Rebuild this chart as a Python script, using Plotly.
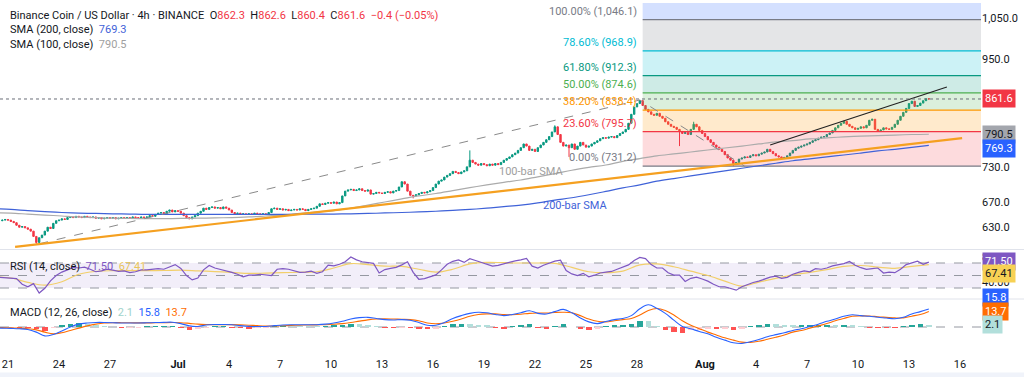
import numpy as np
import pandas as pd
import plotly.graph_objects as go

# ---------------- DATA ----------------
candle_start = "2025-06-20 16:00"   # 4h candles, BNB/USD (Binance)
close_4h = [
    641, 642,                               # Jun 20
    641, 639, 637, 633, 630, 631,           # Jun 21
    629, 627, 624, 616, 607, 614,           # Jun 22
    618, 624, 630, 628, 636, 640,           # Jun 23
    641, 643, 642, 645, 646, 645,           # Jun 24
    647, 646, 645, 647, 646, 645,           # Jun 25
    646, 644, 645, 643, 644, 645,           # Jun 26
    644, 645, 643, 644, 645, 644,           # Jun 27
    645, 644, 646, 645, 644, 646,           # Jun 28
    645, 646, 648, 647, 650, 652,           # Jun 29
    653, 651, 655, 657, 654, 656,           # Jun 30
    655, 652, 648, 645, 643, 646,           # Jul 1
    648, 652, 655, 660, 658, 661,           # Jul 2
    662, 660, 661, 659, 662, 660,           # Jul 3
    657, 653, 651, 652, 650, 651,           # Jul 4
    650, 651, 650, 652, 651, 650,           # Jul 5
    651, 650, 653, 659, 660, 658,           # Jul 6
    659, 657, 658, 656, 657, 658,           # Jul 7
    657, 659, 658, 656, 658, 659,           # Jul 8
    660, 663, 667, 666, 668, 669,           # Jul 9
    668, 670, 667, 669, 680, 688,           # Jul 10
    690, 691, 689, 690, 692, 689,           # Jul 11
    688, 690, 683, 684, 686, 685,           # Jul 12
    684, 686, 687, 685, 688, 689,           # Jul 13
    695, 704, 700, 688, 681, 680,           # Jul 14
    682, 684, 686, 685, 687, 689,           # Jul 15
    694, 700, 705, 707, 712, 715,           # Jul 16
    718, 722, 720, 718, 721, 723,           # Jul 17
    730, 742, 738, 735, 733, 736,           # Jul 18
    734, 732, 735, 733, 736, 734,           # Jul 19
    738, 742, 745, 748, 752, 755,           # Jul 20
    760, 765, 772, 768, 760, 762,           # Jul 21
    758, 765, 770, 775, 780, 786,           # Jul 22
    795, 805, 790, 775, 768, 770,           # Jul 23
    765, 772, 762, 768, 775, 770,           # Jul 24
    766, 768, 772, 775, 778, 782,           # Jul 25
    784, 783, 785, 786, 784, 788,           # Jul 26
    792, 795, 800, 812, 830, 845,           # Jul 27
    852, 858, 848, 840, 835, 830,           # Jul 28
    828, 832, 826, 822, 815, 810,           # Jul 29
    806, 804, 800, 796, 792, 794,           # Jul 30
    790, 800, 810, 805, 798, 792,           # Jul 31
    786, 780, 775, 770, 766, 762,           # Aug 1
    758, 752, 746, 742, 736, 738,           # Aug 2
    744, 746, 748, 747, 750, 752,           # Aug 3
    750, 753, 755, 757, 762, 758,           # Aug 4
    754, 750, 748, 746, 747, 750,           # Aug 5
    755, 760, 764, 766, 768, 770,           # Aug 6
    772, 775, 778, 780, 783, 785,           # Aug 7
    786, 790, 793, 798, 803, 808,           # Aug 8
    812, 816, 810, 806, 803, 800,           # Aug 9
    802, 805, 803, 808, 818, 820,           # Aug 10
    800, 796, 799, 803, 801, 800,           # Aug 11
    804, 810, 818, 826, 834, 842,           # Aug 12
    852, 857, 846, 848, 853, 858,           # Aug 13
    862.0, 861.6,                           # Aug 14
]
first_open = 640.0
last_open = 862.3
wick_high = {"2025-07-18 04:00": 760, "2025-07-23 04:00": 808, "2025-07-28 04:00": 859.5,
             "2025-07-31 08:00": 815, "2025-08-14 04:00": 862.6}
wick_low = {"2025-06-22 16:00": 605, "2025-07-14 20:00": 676, "2025-07-24 00:00": 748,
            "2025-07-30 12:00": 768, "2025-08-02 16:00": 731.2, "2025-08-14 04:00": 860.4}

daily_end = "2025-08-14 04:00"
sma200 = [659, 658, 656, 654.5, 653, 652, 651.5, 651, 650.5, 650,
          650, 650, 650, 650, 650, 650, 650, 650, 650.3, 650.5,
          650.5, 651, 651.5, 652.3, 653, 654, 655, 656.5, 658, 660,
          662.5, 665, 668.5, 673, 677, 682, 687.5, 693.5, 698.5, 705,
          709.5, 714, 718.5, 723, 727.5, 732, 736.5, 741, 744.5, 748,
          751.5, 755, 759, 762, 765.5, 769.3]
sma100 = [652.5, 652, 650.5, 649, 647.5, 646, 645, 644, 643.6, 643.3,
          643.3, 643.6, 644, 644.5, 645, 646, 647.5, 649, 651.5, 654,
          656, 660, 665, 670, 675, 680, 684, 689, 694, 698.5,
          703, 707, 712.5, 718, 724, 729, 733.4, 740, 745, 750,
          753.5, 757, 760.7, 764.4, 768, 772, 776, 778.5, 781.5, 783.5,
          785.5, 787, 788, 789, 790, 790.5]
rsi_ma = [48, 46, 39, 34.5, 40, 52, 56.5, 57.7, 57.7, 57.7,
          58, 58.7, 57.5, 56.3, 55, 53.4, 53.8, 54.5, 55.2, 56,
          62, 69, 67.5, 65, 64.5, 60, 55.5, 60, 68.5, 71,
          70.5, 70, 70, 69.5, 63, 56, 54.5, 57, 67, 68.5,
          64, 57, 50, 41, 33, 39.5, 45.5, 51, 55, 59.5,
          64.5, 66, 63.5, 61.5, 64.5, 67.41]

# RSI(14) sampled every 8h, ending at last candle
rsi_8h = [47, 46.5, 46, 45, 36, 32, 37, 22, 29.5, 41.5, 50,
          55.5, 59, 63, 62, 63.5, 60, 56, 57.5, 60, 58.5,
          56.5, 57.5, 54.5, 56, 59, 59, 60, 61, 60, 63.5,
          67.5, 61.4, 50, 43, 46, 59, 66, 62, 60, 58,
          55, 52, 48, 50.7, 50.7, 52, 51.5, 50, 60, 61,
          60, 57, 55, 55.5, 57, 53.5, 56, 66.5, 65.5, 68,
          72, 79.6, 75, 72, 70.5, 69.5, 54, 59.5, 61.5, 63,
          67, 72, 55, 44, 45, 47.5, 51, 59, 68, 72.7,
          75, 71, 77, 74, 71, 67, 65, 66.3, 69, 71,
          73.5, 75, 77.5, 65, 62, 66.5, 69.5, 73, 74.5, 58,
          52.5, 50, 53.5, 48, 50.5, 54, 55.5, 56.5, 60, 63,
          67, 74, 79, 77, 67.5, 62, 62, 54.5, 50.7, 50.7,
          40.5, 45.5, 47.5, 44.5, 41, 36, 32, 32, 29.5, 26.5,
          32, 36, 38.8, 41, 44, 47.5, 49, 45.5, 47, 52,
          55, 57.5, 56, 61, 60, 62, 65.5, 67, 69, 72.5,
          66.5, 62.5, 59.7, 61, 62, 54, 55.5, 54.5, 60, 67.5,
          70.5, 73, 68, 71.5]

# MACD(12,26) and signal, sampled every 12h, ending at last candle
macd_line = [-0.9, -1, -1.2, -1.5, -2.2, -4.5, -7.8, -6.5, -3.5, 0, 2.5,
             3.5, 4, 4, 3.8, 3.5, 3.5, 3.5, 3.7, 3.9, 4.1,
             4.2, 3, 1, 0.5, 1.8, 2.2, 2.2, 2, 1.2, 0.6,
             0.4, 0.5, 1.2, 1.8, 2, 2, 2, 2, 2.5, 3.5,
             5, 7, 8.2, 8.5, 7.5, 6.5, 6.2, 6.5, 6, 4,
             1.5, 1.5, 4, 7.5, 10, 12, 13, 12.5, 11, 10,
             11, 12.5, 14.3, 12, 11.4, 13.5, 15.5, 12.5, 8, 4.5,
             3, 4.8, 6.5, 7.5, 10, 16, 19.5, 16.5, 12, 6,
             0.5, -1.5, -4, -6, -9, -11.5, -13.8, -14.5, -13, -11,
             -8.5, -6.7, -5, -3, -1.5, 0.5, 2.5, 5, 7, 9.5,
             10.8, 10, 9.4, 8.5, 7.9, 7.2, 8.5, 11.5, 13.5, 15.8]
signal_line = [-0.4, -0.5, -0.8, -1, -1.5, -2.5, -4.5, -6, -5, -3, -1,
               1, 2.5, 3.5, 3.8, 3.8, 3.7, 3.6, 3.6, 3.7, 3.8,
               3.9, 3.8, 3.2, 2.5, 2.2, 2.1, 2.1, 2.1, 1.9, 1.6,
               1.2, 0.9, 0.9, 1.1, 1.4, 1.6, 1.8, 1.9, 2, 2.4,
               3, 4, 5.2, 6.3, 7, 7.2, 7, 6.8, 6.5, 5.5,
               3.5, 2.8, 3.5, 5, 7, 9.5, 11, 11.5, 11.5, 11,
               10.8, 11.2, 12, 12.3, 12.3, 12.8, 13, 12.5, 10, 7,
               5, 4.5, 5.5, 6.5, 7.5, 10.5, 14.5, 16.3, 14.5, 10.5,
               5.5, 1.5, -1.5, -4.5, -7, -9.5, -11.5, -13.3, -13.5, -12.5,
               -10.8, -9, -7, -4.5, -3, -1, 1, 3, 5.5, 7.5,
               9.5, 9.8, 9.7, 9, 8.5, 8, 8, 9.5, 11, 13.7]

# drawings (anchor points)
fib_low, fib_high = 731.2, 1046.1
fib_ratios = [0.0, 0.236, 0.382, 0.5, 0.618, 0.786, 1.0, 1.618]
fib_start = "2025-07-28 08:00"
orange_trend_t = ["2025-06-21 10:00", "2025-08-16 03:00"]
orange_trend_p = [600.4, 783.1]
black_trend_t = ["2025-08-04 20:00", "2025-08-15 05:30"]
black_trend_p = [770.1, 887.3]
fib_path_t = ["2025-06-22 20:00", "2025-07-28 04:00", "2025-08-03 08:00"]
fib_path_p = [605, 859.5, 731.2]

x_ticks = ["2025-06-21", "2025-06-24", "2025-06-27", "2025-07-01", "2025-07-04", "2025-07-07",
           "2025-07-10", "2025-07-13", "2025-07-16", "2025-07-19", "2025-07-22", "2025-07-25",
           "2025-07-28", "2025-08-01", "2025-08-04", "2025-08-07", "2025-08-10", "2025-08-13",
           "2025-08-16"]
x_tick_text = ["21", "24", "27", "<b>Jul</b>", "4", "7", "10", "13", "16", "19", "22", "25",
               "28", "<b>Aug</b>", "4", "7", "10", "13", "16"]
price_ticks = [630, 670, 730, 950, 1050]

# ---------------- BUILD ----------------
t = pd.date_range(candle_start, periods=len(close_4h), freq="4h")
c = np.array(close_4h, dtype=float)
o = np.concatenate([[first_open], c[:-1]])
o[-1] = last_open
h = np.maximum(o, c)
l = np.minimum(o, c)
ts = [x.strftime("%Y-%m-%d %H:%M") for x in t]
for k, v in wick_high.items():
    h[ts.index(k)] = v
for k, v in wick_low.items():
    l[ts.index(k)] = v

t_daily = pd.date_range(end=daily_end, periods=len(sma200), freq="24h")
t_rsi = pd.date_range(end=daily_end, periods=len(rsi_8h), freq="8h")
t_macd = pd.date_range(end=daily_end, periods=len(macd_line), freq="12h")
hist = np.array(macd_line) - np.array(signal_line)
hist_col = []
for i, v in enumerate(hist):
    prev = hist[i - 1] if i > 0 else v
    if v >= 0:
        hist_col.append("#26a69a" if v >= prev else "#b2dfdb")
    else:
        hist_col.append("#ff5252" if v < prev else "#ffcdd2")

lg0, lg1 = np.log10(fib_low), np.log10(fib_high)
fib_vals = [10 ** (lg0 + r * (lg1 - lg0)) for r in fib_ratios]
fib_line_col = ["#787b86", "#f23645", "#ff9800", "#4caf50", "#089981", "#00bcd4", "#787b86", "#2962ff"]
fib_fill = ["rgba(242,54,69,0.18)", "rgba(255,152,0,0.2)", "rgba(76,175,80,0.2)",
            "rgba(8,153,129,0.2)", "rgba(0,188,212,0.2)", "rgba(120,123,134,0.2)",
            "rgba(41,98,255,0.2)"]
fib_end = "2025-08-25"

fig = go.Figure()
for i in range(len(fib_vals) - 1):
    lo, hi = fib_vals[i], fib_vals[i + 1]
    fig.add_trace(go.Scatter(x=[fib_start, fib_end, fib_end, fib_start, fib_start],
                             y=[lo, lo, hi, hi, lo], fill="toself", fillcolor=fib_fill[i],
                             mode="lines", line=dict(width=0), hoverinfo="skip"))
for i in range(len(fib_vals) - 1):
    fig.add_trace(go.Scatter(x=[fib_start, fib_end], y=[fib_vals[i]] * 2, mode="lines",
                             line=dict(color=fib_line_col[i], width=1.2), hoverinfo="skip"))

fig.add_trace(go.Scatter(x=t_daily, y=sma100, mode="lines", line=dict(color="#ababab", width=1.2, shape="spline"), hoverinfo="skip"))
fig.add_trace(go.Scatter(x=t_daily, y=sma200, mode="lines", line=dict(color="#3f62d8", width=1.2, shape="spline"), hoverinfo="skip"))
fig.add_trace(go.Scatter(x=fib_path_t, y=fib_path_p, mode="lines", line=dict(color="#8a8a8a", width=1, dash="dash"), hoverinfo="skip"))
fig.add_trace(go.Scatter(x=orange_trend_t, y=orange_trend_p, mode="lines", line=dict(color="#f5a020", width=2.2), hoverinfo="skip"))
fig.add_trace(go.Scatter(x=black_trend_t, y=black_trend_p, mode="lines", line=dict(color="#222222", width=1.2), hoverinfo="skip"))

fig.add_trace(go.Candlestick(x=t, open=o, high=h, low=l, close=c, whiskerwidth=0,
                             increasing=dict(line=dict(color="#089981", width=1), fillcolor="#089981"),
                             decreasing=dict(line=dict(color="#f23645", width=1), fillcolor="#f23645"),
                             hoverinfo="skip"))

# RSI
fig.add_trace(go.Scatter(x=t_daily, y=rsi_ma, yaxis="y2", mode="lines", line=dict(color="#f2cf6b", width=1.2, shape="spline"), hoverinfo="skip"))
fig.add_trace(go.Scatter(x=t_rsi, y=rsi_8h, yaxis="y2", mode="lines", line=dict(color="#7e57c2", width=1.2), hoverinfo="skip"))
# MACD
fig.add_trace(go.Bar(x=t_macd, y=hist, yaxis="y3", marker=dict(color=hist_col, line=dict(width=0)),
                     width=8 * 3600 * 1000, hoverinfo="skip"))
fig.add_trace(go.Scatter(x=t_macd, y=signal_line, yaxis="y3", mode="lines", line=dict(color="#ff6d00", width=1.1, shape="spline"), hoverinfo="skip"))
fig.add_trace(go.Scatter(x=t_macd, y=macd_line, yaxis="y3", mode="lines", line=dict(color="#2962ff", width=1.1, shape="spline"), hoverinfo="skip"))

shapes = [
    dict(type="rect", xref="paper", yref="y2", x0=0, x1=1, y0=30, y1=70,
         fillcolor="rgba(126,87,194,0.1)", line=dict(width=0), layer="below"),
]
for lv in (70, 50, 30):
    shapes.append(dict(type="line", xref="paper", yref="y2", x0=0, x1=1, y0=lv, y1=lv,
                       line=dict(color="#9598a1", width=1, dash="dash"), layer="below"))
shapes.append(dict(type="line", xref="paper", yref="y3", x0=0, x1=1, y0=0, y1=0,
                   line=dict(color="#9598a1", width=1, dash="dash"), layer="below"))
shapes.append(dict(type="line", xref="paper", yref="y", x0=0, x1=1, y0=c[-1], y1=c[-1],
                   line=dict(color="#6a6d78", width=1, dash="dot")))
for py in (0.2876, 0.1445):
    shapes.append(dict(type="line", xref="paper", yref="paper", x0=0, x1=1.044, y0=py, y1=py,
                       line=dict(color="#e0e3eb", width=1)))
shapes.append(dict(type="rect", xref="paper", yref="paper", x0=0, x1=1.044, y0=-0.095, y1=-0.068,
                   fillcolor="#f0f3fa", line=dict(width=0)))

ann = []
red = "#f23645"
chg = c[-1] - c[-2]
pct = chg / c[-2] * 100
line1 = (f"Binance Coin / US Dollar · 4h · BINANCE  O<span style='color:{red}'>{o[-1]:.1f}</span>"
         f"  H<span style='color:{red}'>{h[-1]:.1f}</span>  L<span style='color:{red}'>{l[-1]:.1f}</span>"
         f"  C<span style='color:{red}'>{c[-1]:.1f}</span>  <span style='color:{red}'>{chg:+.1f} ({pct:+.2f}%)</span>").replace("-", "−")
legend_lines = [
    (line1, 0.9653),
    (f"SMA (200, close)  <span style='color:#3f62d8'>{sma200[-1]:.1f}</span>", 0.922),
    (f"SMA (100, close)  <span style='color:#a0a0a0'>{sma100[-1]:.1f}</span>", 0.8815),
    (f"RSI (14, close)  <span style='color:#7e57c2'>{rsi_8h[-1]:.2f}</span>  <span style='color:#e8c55a'>{rsi_ma[-1]:.2f}</span>", 0.2375),
    (f"MACD (12, 26, close)  <span style='color:#9fd3cc'>{hist[-1]:.1f}</span>  <span style='color:#2962ff'>{macd_line[-1]:.1f}</span>  <span style='color:#ff6d00'>{signal_line[-1]:.1f}</span>", 0.1069),
]
for txt, py in legend_lines:
    ann.append(dict(xref="paper", yref="paper", x=0, y=py, xanchor="left", yanchor="middle",
                    xshift=8, text=txt, showarrow=False, font=dict(size=11, color="#131722")))

fib_lbl_col = ["#787b86", "#f23645", "#ff9800", "#4caf50", "#089981", "#00bcd4", "#787b86"]
for i in range(7):
    v = fib_vals[i]
    ann.append(dict(x=fib_start, y=np.log10(v), xref="x", yref="y", xanchor="right", yanchor="bottom",
                    xshift=-4, yshift=0, showarrow=False,
                    text=f"{fib_ratios[i]*100:.2f}% ({v:,.1f})", font=dict(size=11, color=fib_lbl_col[i])))

ann.append(dict(x="2025-07-21 19:00", y=np.log10(721), xref="x", yref="y", showarrow=False,
                text="100-bar SMA", font=dict(size=11, color="#9e9e9e")))
ann.append(dict(x="2025-07-24 08:00", y=np.log10(663.5), xref="x", yref="y", showarrow=False,
                text="200-bar SMA", font=dict(size=11, color="#3f62d8")))

def box(val, yref, ylog, bg, fg, yshift=0, fmt="{:.1f}"):
    return dict(xref="paper", x=1, xanchor="left", xshift=1, yref=yref, y=ylog, yanchor="middle",
                yshift=yshift, text=fmt.format(val), showarrow=False, bgcolor=bg, borderpad=2,
                font=dict(size=11, color=fg))

ann.append(box(c[-1], "y", np.log10(c[-1]), "#f23645", "white"))
ann.append(box(sma100[-1], "y", np.log10(sma100[-1]), "#a3a6ad", "#131722"))
ann.append(box(sma200[-1], "y", np.log10(sma200[-1]), "#2962ff", "white", yshift=-3))
ann.append(box(rsi_8h[-1], "y2", rsi_8h[-1], "#7e57c2", "white", yshift=1, fmt="{:.2f}"))
ann.append(box(rsi_ma[-1], "y2", rsi_ma[-1], "#f7d154", "#131722", yshift=-9, fmt="{:.2f}"))
ann.append(box(macd_line[-1], "y3", macd_line[-1], "#2962ff", "white", yshift=12))
ann.append(box(signal_line[-1], "y3", signal_line[-1], "#ff6d00", "white"))
ann.append(box(hist[-1], "y3", hist[-1], "#b2dfdb", "#131722"))

fig.update_layout(
    width=1024, height=377, margin=dict(l=0, r=43, t=3, b=28),
    paper_bgcolor="white", plot_bgcolor="white", showlegend=False, bargap=0,
    font=dict(family="Roboto, 'DejaVu Sans', sans-serif", size=11, color="#131722"),
    xaxis=dict(type="date", range=["2025-06-20 12:42", "2025-08-17 05:39"], anchor="y3",
               tickvals=x_ticks, ticktext=x_tick_text, showgrid=False, zeroline=False,
               showline=False, ticks="", ticklabelstandoff=7,
               rangeslider=dict(visible=False), tickfont=dict(size=11)),
    yaxis=dict(domain=[0.2919, 1], type="log", range=[2.77729, 3.03710], side="right", anchor="x",
               tickvals=price_ticks, ticktext=[f"{v:,.1f}" for v in price_ticks],
               showgrid=False, zeroline=False, showline=False, ticks=""),
    yaxis2=dict(domain=[0.1474, 0.2832], range=[14, 89.2], side="right", anchor="x",
                tickvals=[40, 80], ticktext=["40.00", "80.00"], showgrid=False, zeroline=False, ticks=""),
    yaxis3=dict(domain=[0, 0.1416], range=[-19.3, 23.7], side="right", anchor="x",
                showticklabels=False, showgrid=False, zeroline=False),
    shapes=shapes, annotations=ann,
)

fig.write_html("out.html", config={"displayModeBar": False},
               post_script="document.body.style.margin='0';")
